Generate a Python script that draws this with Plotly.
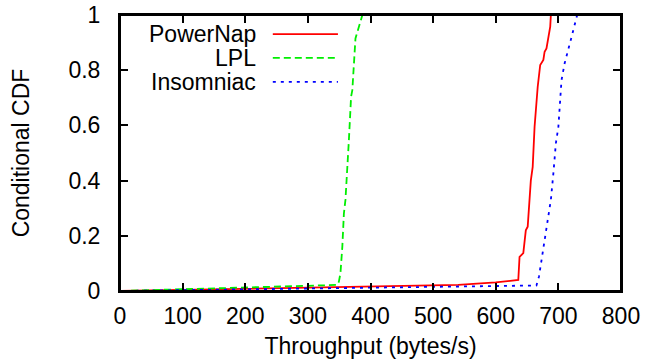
import plotly.graph_objects as go

# PowerNap
pn_x = [0, 100, 200, 300, 400, 500, 540, 600, 636, 638, 644, 648, 651, 656, 659, 662, 667, 671, 676, 678, 681, 687, 688]
pn_y = [0, 0.004, 0.008, 0.012, 0.016, 0.020, 0.022, 0.031, 0.040, 0.124, 0.137, 0.22, 0.233, 0.40, 0.45, 0.595, 0.74, 0.819, 0.837, 0.867, 0.879, 0.958, 1.0]
# LPL
lpl_x = [0, 100, 200, 300, 345, 347, 349.5, 352, 355, 357.5, 360, 364, 365.5, 369, 371, 376, 379, 387]
lpl_y = [0, 0.006, 0.012, 0.018, 0.020, 0.022, 0.034, 0.064, 0.16, 0.28, 0.33, 0.523, 0.547, 0.704, 0.728, 0.915, 0.94, 1.0]
# Insomniac
ins_x = [0, 100, 200, 300, 400, 500, 600, 665, 669, 676, 681, 688, 692, 696, 700, 703, 705, 710, 716, 721, 730]
ins_y = [0, 0.003, 0.006, 0.008, 0.011, 0.015, 0.018, 0.020, 0.052, 0.16, 0.233, 0.33, 0.426, 0.535, 0.595, 0.69, 0.764, 0.825, 0.873, 0.92, 1.0]

names = ["PowerNap", "LPL", "Insomniac"]
colors = ["#ff0000", "#00ee00", "#0000ff"]
dashes = ["solid", "7px,4px", "3px,5px"]

FONT = "Liberation Sans, Arial, Helvetica, sans-serif"
FS = 23

fig = go.Figure()
for (xs, ys), name, c, d in zip([(pn_x, pn_y), (lpl_x, lpl_y), (ins_x, ins_y)], names, colors, dashes):
    fig.add_trace(go.Scatter(x=xs, y=ys, mode="lines", name=name,
                             line=dict(color=c, width=1.8, dash=d), showlegend=False))

# gnuplot-style legend: right-aligned text then line sample
leg_y = [0.931, 0.845, 0.758]
for name, c, d, yy in zip(names, colors, dashes, leg_y):
    fig.add_annotation(xref="paper", yref="paper", x=0.275, y=yy, text=name,
                       showarrow=False, xanchor="right", yanchor="middle",
                       font=dict(family=FONT, size=FS, color="black"))
    fig.add_shape(type="line", xref="paper", yref="paper", x0=0.305, x1=0.435, y0=yy, y1=yy,
                  line=dict(color=c, width=1.8, dash=d))

# plot frame (gnuplot border)
fig.add_shape(type="rect", xref="paper", yref="paper", x0=0, x1=1, y0=0, y1=1,
              line=dict(color="#000000", width=2), fillcolor="rgba(0,0,0,0)", layer="above")

axis_common = dict(showline=True, linecolor="black", linewidth=2, mirror="allticks",
                   ticks="inside", ticklen=8, tickwidth=1.5, tickcolor="black",
                   showgrid=False, zeroline=False, automargin=False,
                   tickfont=dict(family=FONT, size=FS, color="black"))

fig.update_xaxes(range=[0, 800], tickvals=[0, 100, 200, 300, 400, 500, 600, 700, 800],
                 title=dict(text="Throughput (bytes/s)", font=dict(family=FONT, size=FS, color="black"), standoff=10),
                 ticklabelstandoff=3, **axis_common)
fig.update_yaxes(range=[0, 1], tickvals=[0, 0.2, 0.4, 0.6, 0.8, 1],
                 ticktext=["0", "0.2", "0.4", "0.6", "0.8", "1"],
                 title=dict(text="Conditional CDF", font=dict(family=FONT, size=FS, color="black"), standoff=32),
                 ticklabelstandoff=13, **axis_common)

fig.update_layout(width=668, height=362, margin=dict(l=120, r=47, t=15, b=71, autoexpand=False),
                  plot_bgcolor="white", paper_bgcolor="white")

fig.write_html("out.html", config={"displayModeBar": False},
               post_script="document.body.style.margin='0';document.body.style.overflow='hidden';")
